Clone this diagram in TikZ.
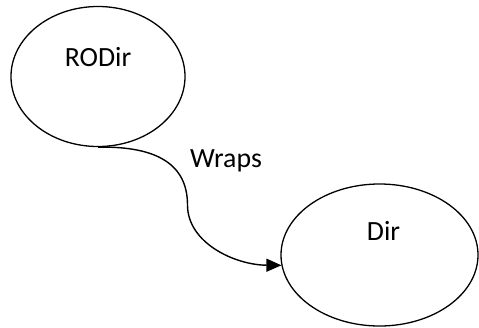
\documentclass[tikz,border=0pt]{standalone}
\usepackage{fontspec}
\setmainfont{Carlito}
\usetikzlibrary{arrows.meta,shapes.geometric}
\begin{document}
\begin{tikzpicture}[x=1pt,y=-1pt,
  bubble/.style={draw=black,line width=1.3pt,ellipse,inner sep=0pt},
  lbl/.style={font=\fontsize{27.8}{33}\selectfont,anchor=base,inner sep=0pt},
  conn/.style={draw=black,line width=1.4pt,-{Triangle[length=15pt,width=13pt]}}]
\useasboundingbox (0,0) rectangle (479,327);
\node[bubble,minimum width=174pt,minimum height=140pt] (rodirE) at (98,76.5) {};
\node[bubble,minimum width=197pt,minimum height=142pt] (dirE) at (379.5,255) {};
\node[lbl] (rodir) at (98,66) {RODir};
\node[lbl] (dir) at (383.5,240) {Dir};
\node[lbl] (wraps) at (226,167) {Wraps};
\coordinate (mid) at (187.5,205);
\draw[conn] (rodirE.south) .. controls (158,146) and (187.5,165) .. (mid)
  .. controls (187.5,243) and (235,265) .. (dirE.186);
\end{tikzpicture}
\end{document}
